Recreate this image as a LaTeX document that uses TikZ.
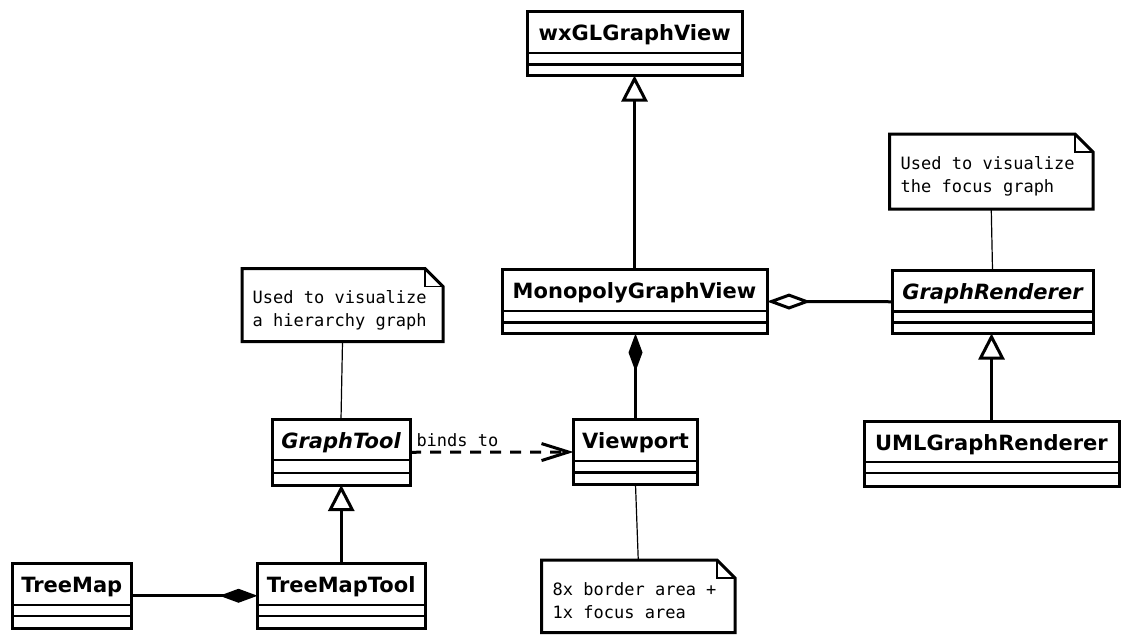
\documentclass[tikz,border=0pt]{standalone}
\usepackage{fontspec}
\setmainfont{DejaVu Sans}[BoldFont={DejaVu Sans Bold},ItalicFont={DejaVu Sans Oblique},BoldItalicFont={DejaVu Sans Bold Oblique}]
\newfontfamily\notefont{DejaVu Sans Mono}
\usetikzlibrary{arrows.meta,calc}

\tikzset{
  classbox/.style={draw,rectangle,line width=3pt,inner sep=0pt,outer sep=0pt},
  classname/.style={font=\bfseries\fontsize{21}{25}\selectfont,anchor=base,inner sep=0pt},
  divider/.style={line width=2.6pt},
  noteframe/.style={rectangle,inner sep=0pt,outer sep=0pt},
  noteborder/.style={line width=3pt,line join=miter},
  notefold/.style={line width=1.4pt},
  notetext/.style={font=\notefont\fontsize{17}{23.5}\selectfont,anchor=base west,inner sep=0pt},
  noteline/.style={line width=1.2pt},
  gen/.style={line width=3pt,-{Triangle[open,length=26pt,width=26pt]}},
  comp/.style={line width=3pt,-{Diamond[length=38pt,width=14pt]}},
  agg/.style={line width=3pt,-{Diamond[open,length=44pt,width=16pt]}},
  dep/.style={line width=3pt,dash pattern=on 11pt off 9pt,-{Straight Barb[length=27pt,width=17pt]}},
  deplabel/.style={font=\notefont\fontsize{17}{20}\selectfont,inner sep=0pt},
}

% class box: name, left, top, right, first divider, second divider, bottom, title
\newcommand\umlclass[8]{%
  \node[classbox,minimum width={(#4)-(#2)},minimum height={(#7)-(#3)}]
    (#1) at ({((#2)+(#4))/2},{((#3)+(#7))/2}) {};
  \node[classname] (#1-title) at ({((#2)+(#4))/2},{(#3)+29.3}) {#8};
  \draw[divider] (#2,#5) -- (#4,#5);
  \draw[divider] (#2,#6) -- (#4,#6);
}

% note with a folded corner: name, left, top, right, bottom
\newcommand\umlnote[5]{%
  \node[noteframe,minimum width={(#4)-(#2)},minimum height={(#5)-(#3)}]
    (#1) at ({((#2)+(#4))/2},{((#3)+(#5))/2}) {};
  \draw[noteborder] (#1.north west) -- ([xshift=-18pt]#1.north east)
    -- ([yshift=-18pt]#1.north east) -- (#1.south east) -- (#1.south west) -- cycle;
  \draw[notefold] ([xshift=-18pt]#1.north east) |- ([yshift=-18pt]#1.north east);
}

\begin{document}
\begin{tikzpicture}[x=1pt,y=-1pt]
  \useasboundingbox[fill=white] (0,0) rectangle (1123,635);

  % classes
  \umlclass{wx}{527.5}{11}{742}{53}{64.5}{75.5}{wxGLGraphView}
  \umlclass{mgv}{502}{269.5}{767}{311}{322.5}{333.5}{MonopolyGraphView}
  \umlclass{gr}{892}{270}{1093}{311.5}{322.5}{333.5}{\itshape GraphRenderer}
  \umlclass{uml}{864}{421}{1119}{462}{473}{486}{UMLGraphRenderer}
  \umlclass{gt}{272}{419.5}{410}{460}{473}{485}{\itshape GraphTool}
  \umlclass{vp}{573.5}{419.5}{697.5}{461}{472.5}{484.5}{Viewport}
  \umlclass{tm}{12}{563}{131.5}{605}{616}{628.5}{TreeMap}
  \umlclass{tmt}{257.5}{563}{425}{605}{616}{628.5}{TreeMapTool}

  % notes
  \umlnote{ngr}{889.5}{134}{1093}{209}
  \node[notetext] (ngr-l1) at (900.5,169) {Used to visualize};
  \node[notetext] (ngr-l2) at (900.5,192.5) {the focus graph};

  \umlnote{ngt}{242}{268.5}{443}{341.5}
  \node[notetext] (ngt-l1) at (252.5,303) {Used to visualize};
  \node[notetext] (ngt-l2) at (252.5,326.5) {a hierarchy graph};

  \umlnote{nvp}{541.5}{560}{735}{632.5}
  \node[notetext] (nvp-l1) at (552.5,595) {8x border area +};
  \node[notetext] (nvp-l2) at (552.5,618.5) {1x focus area};

  % note attachments
  \draw[noteline] (ngr.south) -- (gr.north);
  \draw[noteline] (ngt.south) -- (gt.north);
  \draw[noteline] (vp.south) -- (nvp.north);

  % relations
  \draw[gen] (mgv.north) -- (mgv.north |- wx.south);
  \draw[gen] (uml.north) -- (uml.north |- gr.south);
  \draw[gen] (tmt.north) -- (tmt.north |- gt.south);
  \draw[agg] (gr.west) -- (mgv.east);
  \draw[comp] (vp.north) -- (vp.north |- mgv.south);
  \draw[comp] (tm.east) -- (tmt.west);
  \draw[dep] (gt.east) -- (vp.west)
    node[deplabel,pos=0,anchor=base west,xshift=5pt,yshift=5.5pt] (binds) {binds to};
\end{tikzpicture}
\end{document}
